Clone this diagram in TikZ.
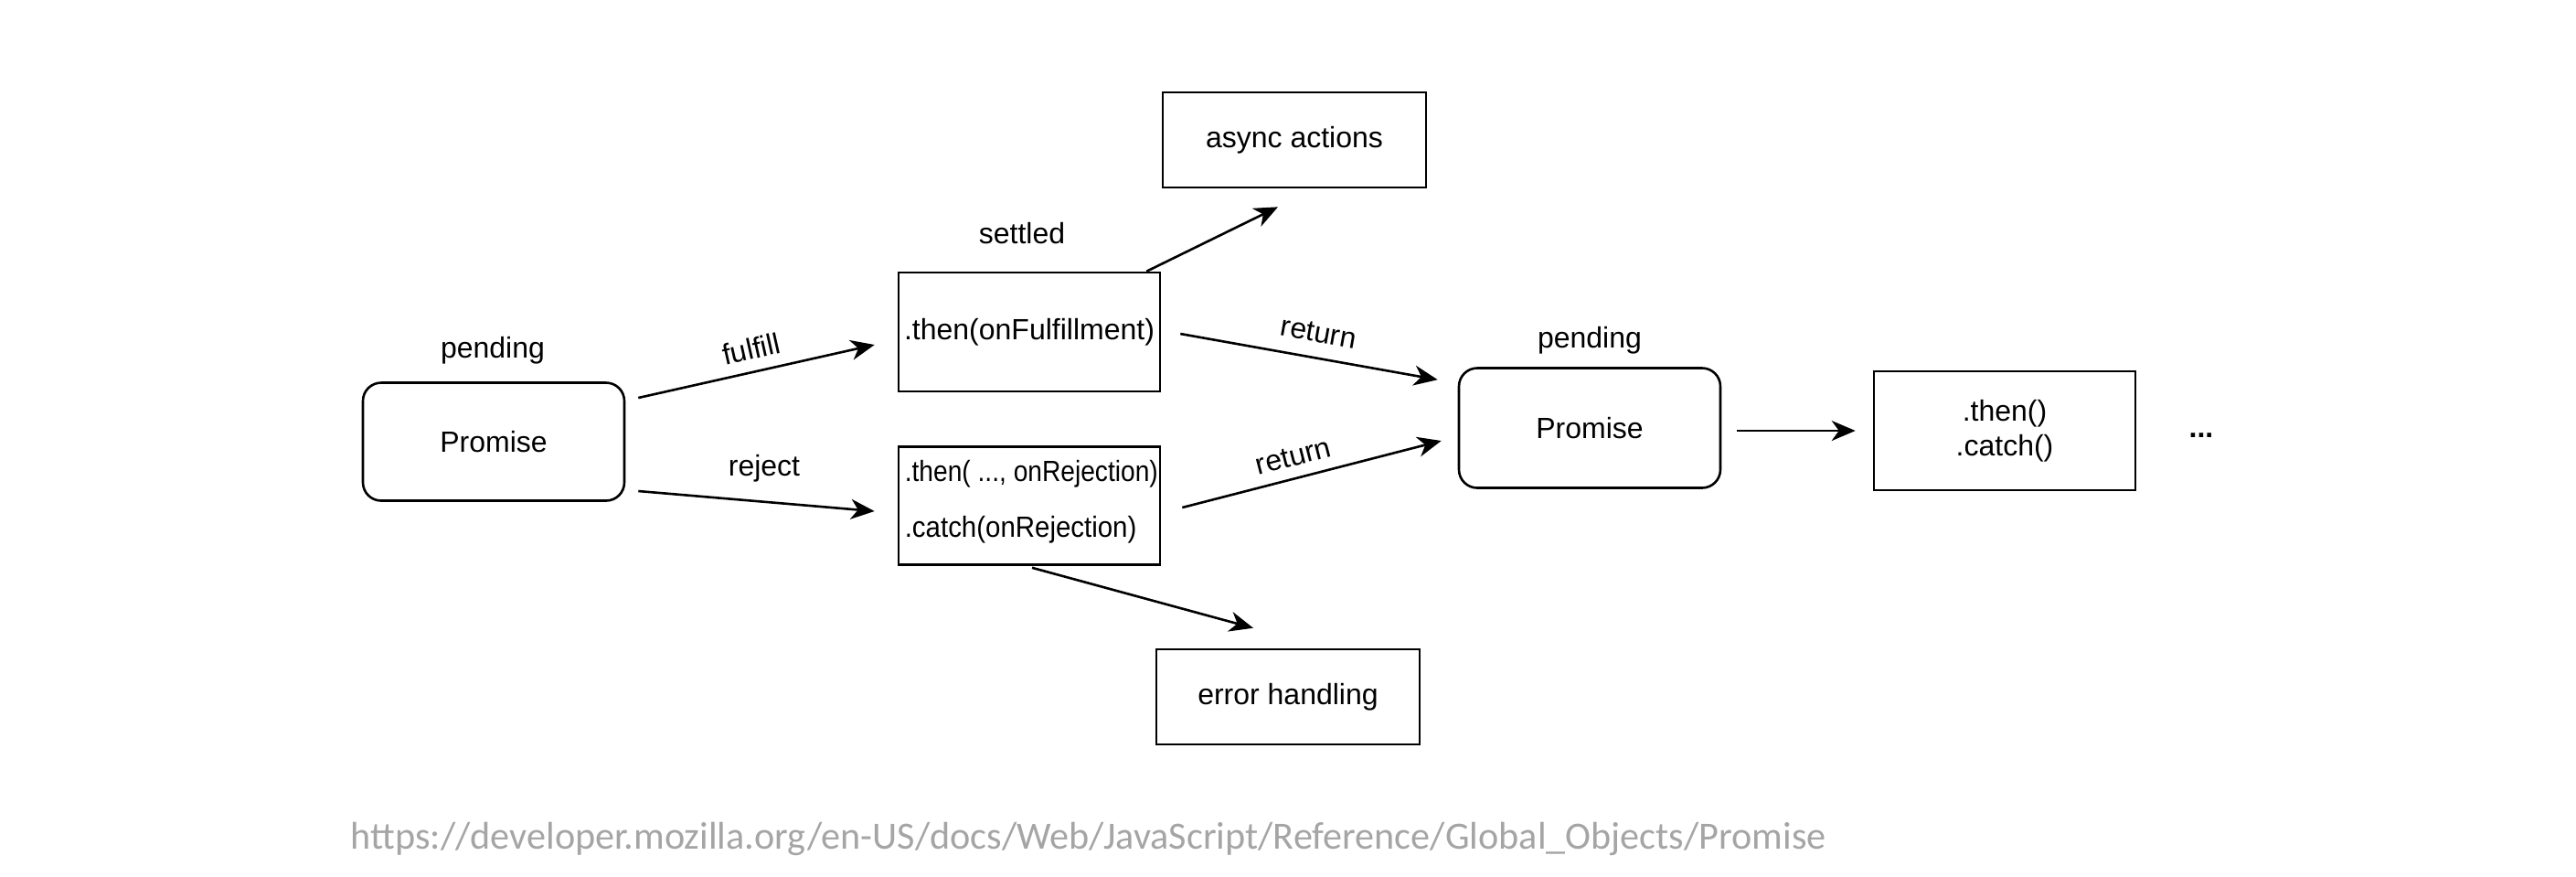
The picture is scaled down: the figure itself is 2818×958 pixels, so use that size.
\documentclass[tikz,border=0pt]{standalone}
\usepackage{fontspec}
\setmainfont{Liberation Sans}
\newfontfamily\urlfont{Carlito}
\usetikzlibrary{arrows.meta,calc}
\definecolor{urlgray}{RGB}{165,165,165}
\tikzset{
  box/.style={draw=black, line width=0.65pt, inner sep=0pt, font=\fontsize{8pt}{9.6pt}\selectfont},
  rbox/.style={box, rounded corners=5pt},
  lbl/.style={inner sep=1pt, font=\fontsize{8pt}{9.6pt}\selectfont},
  conn/.style={line width=0.65pt, -{Stealth[length=6.5pt,width=5.5pt,inset=2pt]}},
}
\begin{document}
\begin{tikzpicture}[x=0.25pt,y=-0.25pt]
\useasboundingbox (0,0) rectangle (2818,958);

% nodes
\node[rbox, minimum width=286*0.25pt, minimum height=129*0.25pt] (p1) at (540,483) {Promise};
\node[box, minimum width=286*0.25pt, minimum height=130*0.25pt] (fb) at (1126,363) {.then(onFulfillment)};
\node[box, minimum width=286*0.25pt, minimum height=129*0.25pt] (rb) at (1126,553) {};
\node[lbl, anchor=west, inner sep=0pt] (rb1) at (989,518) {\scalebox{0.88}[1]{.then( ..., onRejection)}};
\node[lbl, anchor=west, inner sep=0pt] (rb2) at (989,579) {\scalebox{0.92}[1]{.catch(onRejection)}};
\node[box, minimum width=288*0.25pt, minimum height=104*0.25pt] (aa) at (1416,153) {async actions};
\node[box, minimum width=288*0.25pt, minimum height=104*0.25pt] (eh) at (1409,762) {error handling};
\node[rbox, minimum width=286*0.25pt, minimum height=131*0.25pt] (p2) at (1739,468) {Promise};
\node[box, minimum width=286*0.25pt, minimum height=130*0.25pt, align=center] (tc) at (2193,471) {.then()\\.catch()};
\node[lbl] (dots) at (2408,476) {\textbf{...}};

% state labels
\node[lbl] (pend1) at (539,383) {pending};
\node[lbl] (sett) at (1118,255) {settled};
\node[lbl] (pend2) at (1739,372) {pending};

% connectors
\draw[conn] ($(p1.east)+(14,-48)$) -- node[lbl, sloped, above=2pt] (lf) {fulfill} ($(fb.west)+(-25,14)$);
\draw[conn] ($(p1.east)+(14,54)$) -- ($(rb.west)+(-25,6)$);
\node[lbl] (lr) at (836,512) {reject};
\draw[conn] ($(fb.north east)+(-16,0)$) -- ($(aa.south)+(-18,20)$);
\draw[conn] ($(fb.east)+(21,2)$) -- node[lbl, sloped, above=3pt, pos=0.52] (lret1) {return} ($(p2.north west)+(-22,14)$);
\draw[conn] ($(rb.east)+(23,2)$) -- node[lbl, sloped, above=2pt, pos=0.45] (lret2) {return} ($(p2.west)+(-18,14)$);
\draw[conn] ($(rb.south)+(3,2)$) -- ($(eh.north)+(-38,-22)$);
\draw[conn] ($(p2.east)+(17,3)$) -- ($(tc.west)+(-19,0)$);

% source
\node[anchor=base west, inner sep=0pt, text=urlgray, font=\urlfont\fontsize{10.55pt}{12pt}\selectfont] (src) at (383,928) {https://developer.mozilla.org/en-US/docs/Web/JavaScript/Reference/Global\_Objects/Promise};
\end{tikzpicture}
\end{document}
